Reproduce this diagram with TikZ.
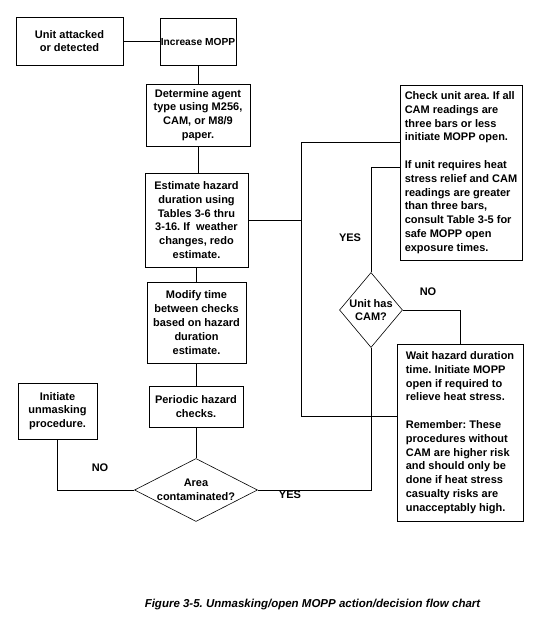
\documentclass[tikz,border=0pt]{standalone}
\usepackage{fontspec}
\setmainfont{Liberation Sans}
\frenchspacing
\usetikzlibrary{shapes.geometric}
\begin{document}
\begin{tikzpicture}[x=1pt,y=-1pt,
  box/.style={draw=black, line width=0.6pt, inner sep=1pt, align=center,
    font=\bfseries\fontsize{11}{13.8}\selectfont},
  notebox/.style={box, align=left},
  decision/.style={draw=black, diamond, line width=0.6pt, inner sep=0pt},
  link/.style={draw=black, line width=0.6pt},
  lbl/.style={font=\bfseries\fontsize{11}{13}\selectfont}]
\useasboundingbox (0,0) rectangle (550,620);
% action boxes down the middle
\node [box, minimum width=107pt, minimum height=48pt] (attacked) at (69.5,41) {Unit attacked\\or detected};
\node [box, minimum width=76pt, minimum height=47pt, font=\bfseries\fontsize{10.2}{13.8}\selectfont] (increase) at (198,41.5) {Increase MOPP};
\node [box, minimum width=104pt, minimum height=62pt] (agent) at (198,115) {Determine agent\\type using M256,\\CAM, or M8/9\\paper.};
\node [box, minimum width=103pt, minimum height=94pt] (estimate) at (196.5,220) {Estimate hazard\\duration using\\Tables 3-6 thru\\3-16. If\ \ weather\\changes, redo\\estimate.};
\node [box, minimum width=99pt, minimum height=81pt] (modify) at (196.5,322.5) {Modify time\\between checks\\based on hazard\\duration\\estimate.};
\node [box, minimum width=94pt, minimum height=41pt] (periodic) at (196,406.5) {Periodic hazard\\checks.};
\node [box, minimum width=79pt, minimum height=56pt] (unmask) at (57.5,411) {Initiate\\unmasking\\procedure.};
% decisions
\node [decision, minimum width=123pt, minimum height=63pt,
  label={[box, draw=none]center:Area\\contaminated?}] (area) at (196,490) {};
\node [decision, minimum width=63pt, minimum height=75pt,
  label={[box, draw=none]center:Unit has\\CAM?}] (cam) at (371,310) {};
% notes on the right
\node [notebox, minimum width=122pt, minimum height=175pt] (check) at (461,172.5) {Check unit area. If all\\CAM readings are\\three bars or less\\initiate MOPP open.\\[13.8pt]If unit requires heat\\stress relief and CAM\\readings are greater\\than three bars,\\consult Table 3-5 for\\safe MOPP open\\exposure times.};
\node [notebox, minimum width=126pt, minimum height=177pt] (wait) at (460,432.5) {Wait hazard duration\\time. Initiate MOPP\\open if required to\\relieve heat stress.\\[13.8pt]Remember: These\\procedures without\\CAM are higher risk\\and should only be\\done if heat stress\\casualty risks are\\unacceptably high.};
% connectors
\coordinate (jtop) at (301,142);
\coordinate (jbot) at (301,416);
\draw [link] (attacked.east) -- (increase.west |- attacked.east);
\draw [link] (increase.south) -- (increase.south |- agent.north);
\draw [link] (agent.south) -- (agent.south |- estimate.north);
\draw [link] (estimate.south) -- (estimate.south |- modify.north);
\draw [link] (modify.south) -- (modify.south |- periodic.north);
\draw [link] (periodic.south) -- (periodic.south |- area.north);
\draw [link] (estimate.east) -- (estimate.east -| jtop);
\draw [link] (check.west |- jtop) -- (jtop) -- (jbot) -- (wait.west |- jbot);
\draw [link] (check.west |- 0,167) -| (cam.north);
\draw [link] (cam.east) -| (wait.north);
\draw [link] (cam.south) |- (area.east);
\draw [link] (unmask.south) |- (area.west);
% branch labels
\node [lbl] (yescam) at (350,238) {YES};
\node [lbl] (nocam) at (428,292) {NO};
\node [lbl] (yesarea) at (290,495) {YES};
\node [lbl] (noarea) at (100,468) {NO};
\node [font=\bfseries\itshape\fontsize{11.5}{13}\selectfont] (caption) at (312.5,605) {Figure 3-5. Unmasking/open MOPP action/decision flow chart};
\end{tikzpicture}
\end{document}
